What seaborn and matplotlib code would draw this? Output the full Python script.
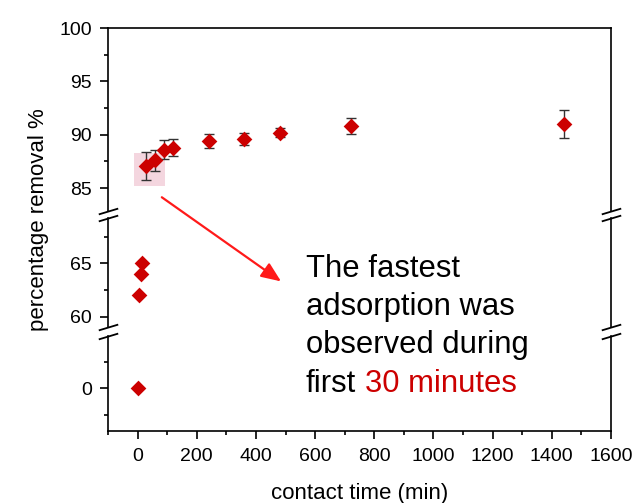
import numpy as np
import pandas as pd
import matplotlib.pyplot as plt
import seaborn as sns
from matplotlib.patches import Rectangle, ConnectionPatch
from matplotlib.ticker import MultipleLocator, FixedLocator

# ---------------------------------------------------------------
# Data
# ---------------------------------------------------------------
time_min = [0, 5, 10, 15, 30, 60, 90, 120, 240, 360, 480, 720, 1440]
removal = [0.0, 62.0, 64.0, 65.0, 87.1, 87.6, 88.6, 88.8, 89.4, 89.6, 90.2, 90.8, 91.0]
removal_err = [np.nan, np.nan, np.nan, np.nan, 1.3, 1.0, 0.9, 0.8, 0.65, 0.6, 0.45, 0.75, 1.3]

x_ticks = [0, 200, 400, 600, 800, 1000, 1200, 1400, 1600]
note_lines = ["The fastest", "adsorption was", "observed during", "first"]
note_red = "30 minutes"

df = pd.DataFrame({"time": time_min, "removal": removal, "err": removal_err})

# ---------------------------------------------------------------
# Style
# ---------------------------------------------------------------
sns.set_style("ticks", {"axes.edgecolor": "black", "xtick.color": "black",
                        "ytick.color": "black", "text.color": "black",
                        "axes.labelcolor": "black"})
plt.rcParams["font.family"] = ["Liberation Sans", "DejaVu Sans"]
plt.rcParams["axes.linewidth"] = 1.2

marker_red = "#cc0000"
arrow_red = "#ff1a1a"

fig = plt.figure(figsize=(6.34, 5.03), dpi=100)

# broken y axis: (bottom, height) in figure fraction, ylim, major ticks
panels = [
    ((0.5815, 0.3628), (82.91, 100), [85, 90, 95, 100]),
    ((0.3493, 0.2173), (59.0, 69.24), [60, 65]),
    ((0.1431, 0.1889), (-4.03, 4.92), [0]),
]

axes = []
for i, ((y0, h), ylim, yt) in enumerate(panels):
    ax = fig.add_axes([0.1703, y0, 0.7934, h], sharex=axes[0] if axes else None)
    ax.errorbar(df["time"], df["removal"], yerr=df["err"], fmt="none",
                ecolor="#333333", elinewidth=1.0, capsize=3.5, capthick=1.0, zorder=2)
    sns.scatterplot(data=df, x="time", y="removal", marker="D", s=64,
                    color=marker_red, linewidth=0, ax=ax, zorder=3)
    ax.set_ylim(*ylim)
    ax.set_xlim(-100, 1600)
    ax.yaxis.set_major_locator(FixedLocator(yt))
    ax.yaxis.set_minor_locator(MultipleLocator(2.5))
    ax.set_xlabel("")
    ax.set_ylabel("")
    ax.tick_params(axis="y", which="major", length=6, width=1.2, labelsize=14, pad=5.5)
    ax.tick_params(axis="y", which="minor", length=3, width=1.2)
    ax.tick_params(right=False, top=False, which="both")
    if i > 0:
        ax.spines["top"].set_visible(False)
    if i < len(panels) - 1:
        ax.spines["bottom"].set_visible(False)
        ax.tick_params(axis="x", which="both", bottom=False, labelbottom=False)
    axes.append(ax)

ax_top, ax_mid, ax_bot = axes

ax_bot.xaxis.set_major_locator(FixedLocator(x_ticks))
ax_bot.xaxis.set_minor_locator(MultipleLocator(100))
ax_bot.tick_params(axis="x", which="major", length=6, width=1.2, labelsize=14, pad=6.5)
ax_bot.tick_params(axis="x", which="minor", length=3, width=1.2)
ax_bot.set_xlabel("contact time (min)", fontsize=16, labelpad=13)

# break marks on both spines
kw = dict(marker=[(-1, -0.3), (1, 0.3)], markersize=14, linestyle="none",
          color="k", mec="k", mew=1.3, clip_on=False)
ax_top.plot([0, 1], [0, 0], transform=ax_top.transAxes, **kw)
ax_mid.plot([0, 1], [1, 1], transform=ax_mid.transAxes, **kw)
ax_mid.plot([0, 1], [0, 0], transform=ax_mid.transAxes, **kw)
ax_bot.plot([0, 1], [1, 1], transform=ax_bot.transAxes, **kw)

# highlight of the first 30 minutes
ax_top.add_patch(Rectangle((-12, 85.25), 104, 3.05, facecolor="#f4d6df",
                           edgecolor="none", zorder=1))

# arrow from the highlight into the note
fig.add_artist(ConnectionPatch(xyA=(82, 84.15), coordsA=ax_top.transData,
                               xyB=(485, 63.3), coordsB=ax_mid.transData,
                               arrowstyle="-|>,head_length=0.6,head_width=0.25",
                               mutation_scale=20, color=arrow_red, lw=1.6,
                               shrinkA=0, shrinkB=0))

fig.text(0.0607, 1 - 219.5 / 503, "percentage removal %", rotation=90,
         ha="center", va="center", fontsize=16)

# note text
txt = None
for k, line in enumerate(note_lines):
    txt = fig.text(306 / 634, 1 - (276.7 + 38.3 * k) / 503, line,
                   ha="left", va="baseline", fontsize=22.3, color="black")

# red part placed right after "first"
renderer = fig.canvas.get_renderer()
bb = txt.get_window_extent(renderer=renderer)
fig.text((bb.x1 + 8.5) / (fig.dpi * fig.get_figwidth()), 1 - (276.7 + 38.3 * 3) / 503,
         note_red, ha="left", va="baseline", fontsize=22.3, color=marker_red)

fig.savefig("out.png", dpi=100)
